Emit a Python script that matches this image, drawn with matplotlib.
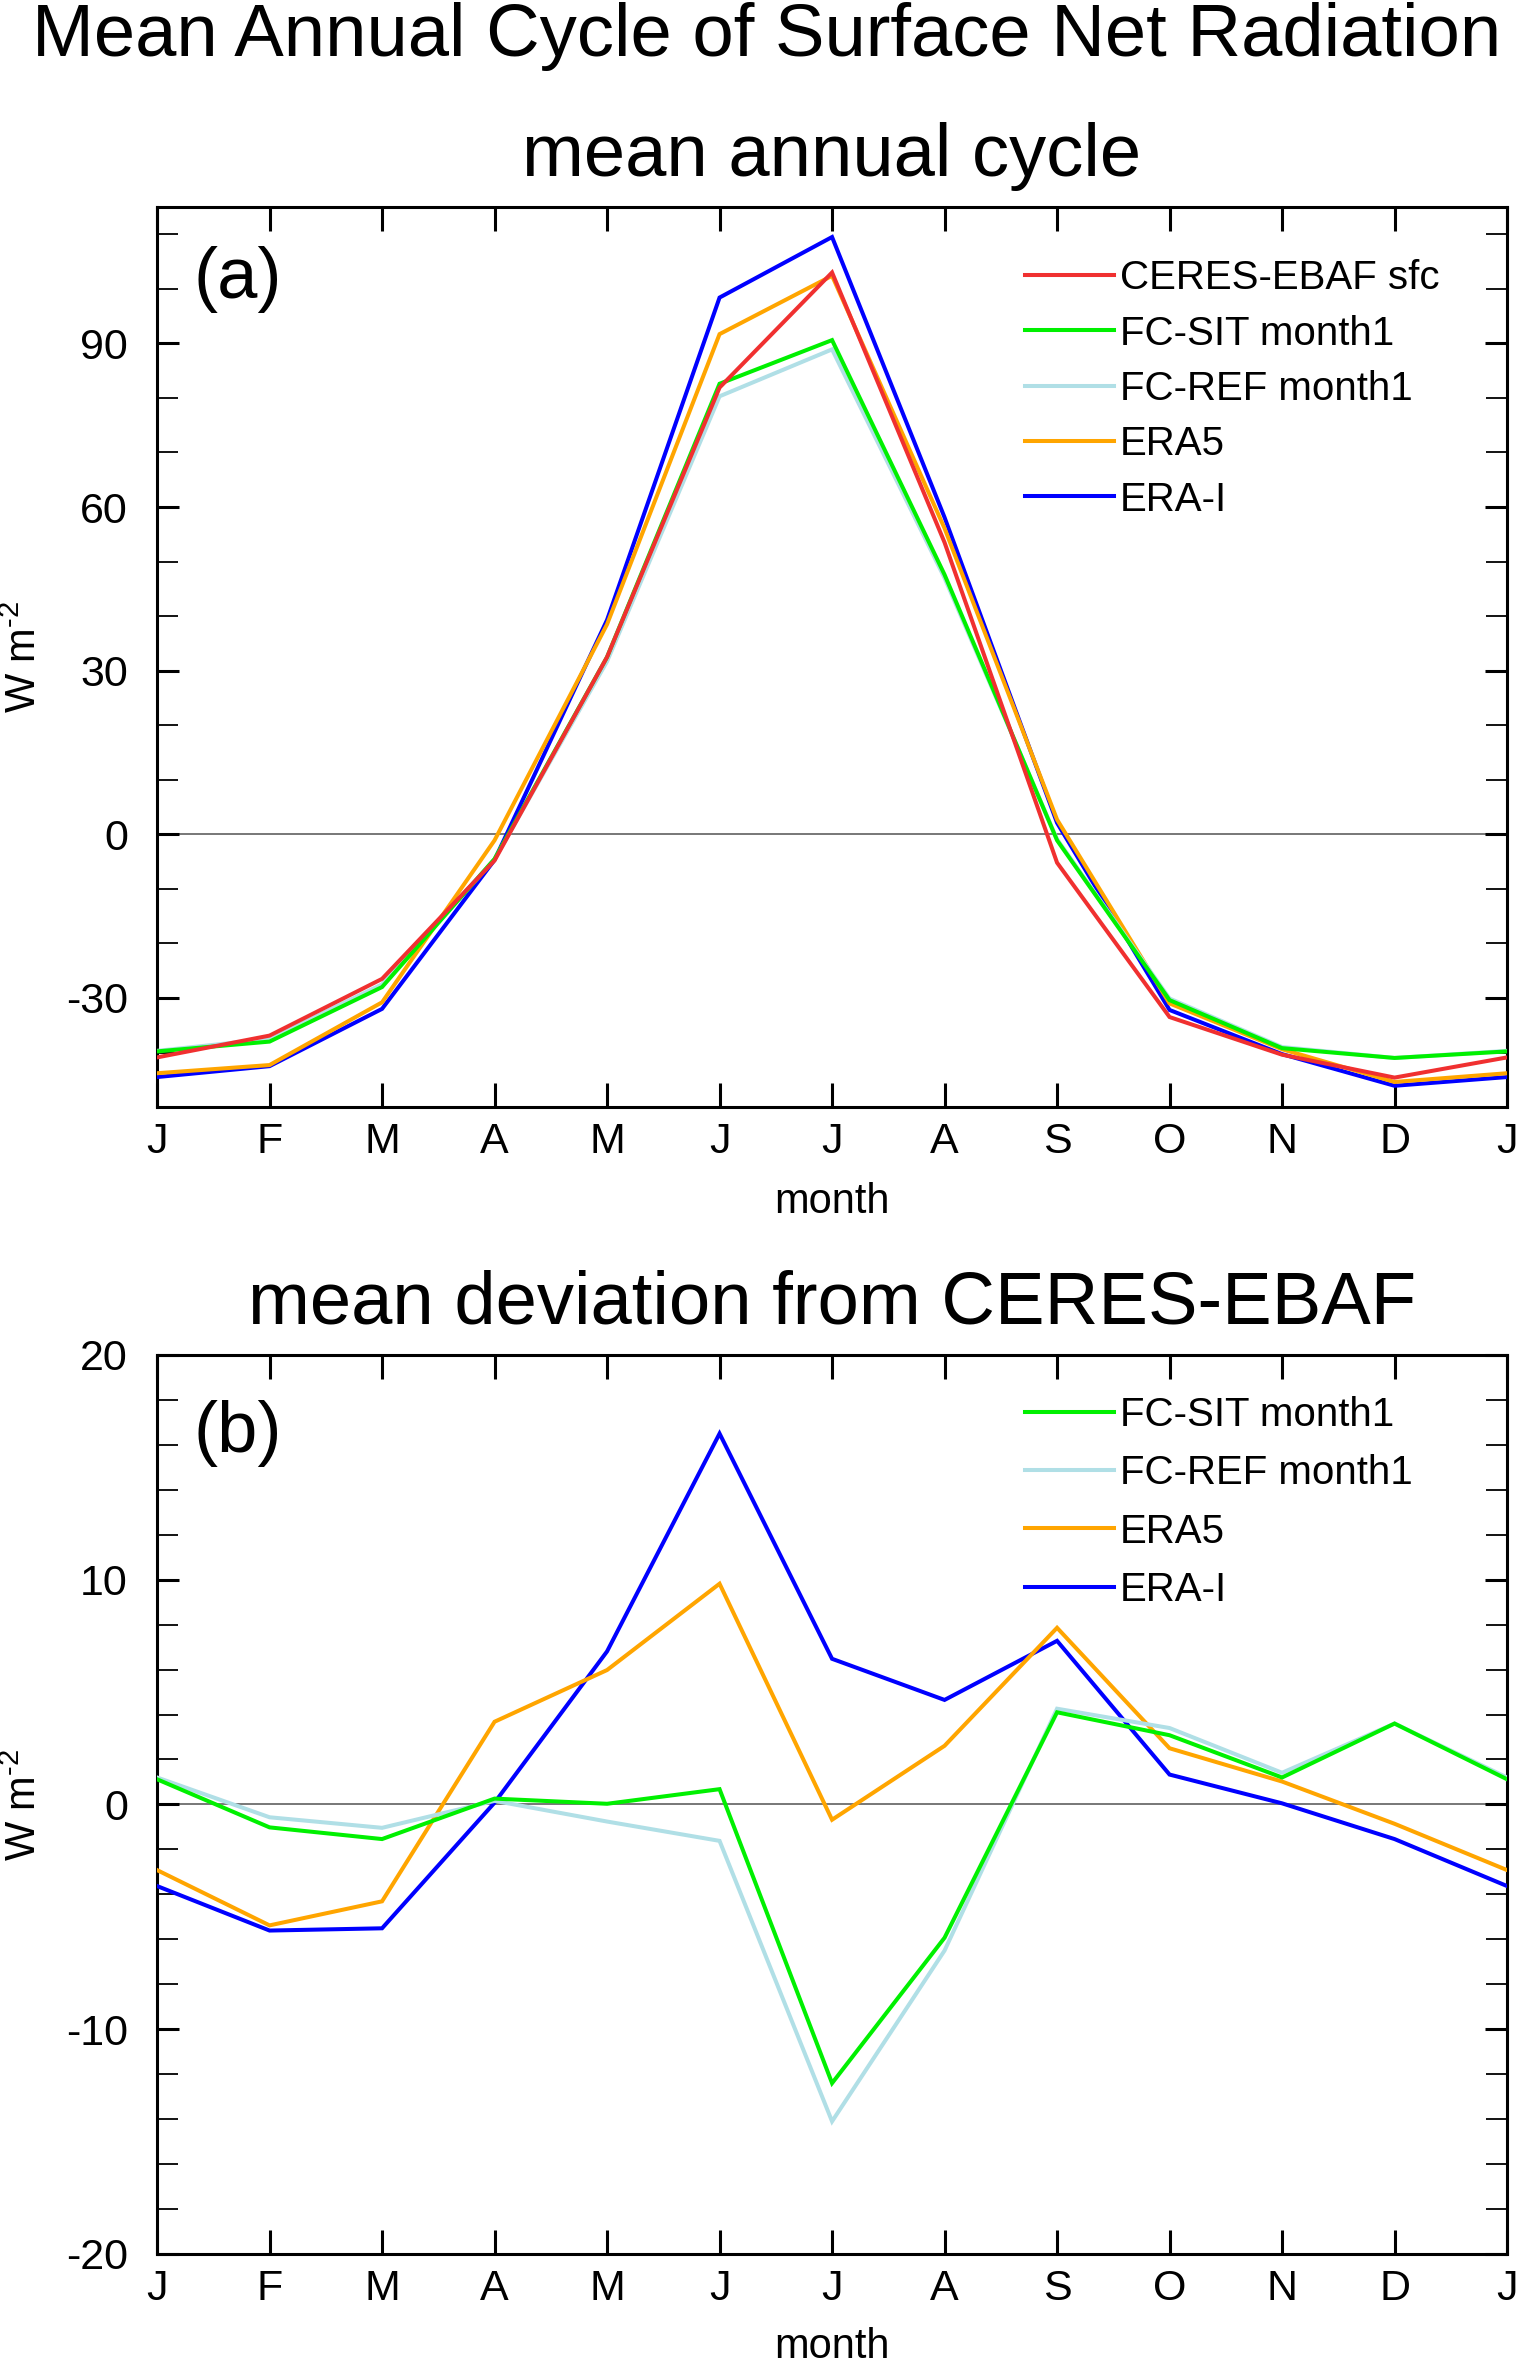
import numpy as np
import matplotlib
matplotlib.use("Agg")
from matplotlib import pyplot as plt
from matplotlib.ticker import MultipleLocator

plt.rcParams['font.family'] = ['Liberation Sans', 'DejaVu Sans']
plt.rcParams['mathtext.fontset'] = 'custom'
plt.rcParams['mathtext.rm'] = 'Liberation Sans'
plt.rcParams['mathtext.it'] = 'Liberation Sans:italic'
plt.rcParams['axes.unicode_minus'] = False

# dane (styczeń..grudzień)
month_labels = ["J", "F", "M", "A", "M", "J", "J", "A", "S", "O", "N", "D", "J"]

ceres = [-40.9, -36.9, -26.5, -4.8, 32.5, 81.9, 103.0, 53.5, -5.2, -33.5, -40.4, -44.6]
fc_sit = [-39.8, -38.0, -28.0, -4.5, 32.5, 82.6, 90.6, 47.6, -1.1, -30.4, -39.2, -41.0]
fc_ref = [-39.7, -37.5, -27.5, -4.6, 31.7, 80.3, 88.9, 47.0, -0.9, -30.1, -39.0, -41.0]
era5 = [-43.8, -42.3, -30.8, -1.1, 38.5, 91.7, 102.4, 56.1, 2.7, -31.0, -39.4, -45.4]
erai = [-44.5, -42.5, -32.0, -4.7, 39.3, 98.4, 109.5, 58.1, 2.1, -32.2, -40.3, -46.1]

# odchylenia od CERES-EBAF
dev_fc_sit = [1.12, -1.02, -1.54, 0.26, 0.03, 0.68, -12.4, -5.93, 4.1, 3.08, 1.2, 3.6]
dev_fc_ref = [1.2, -0.57, -1.04, 0.16, -0.76, -1.62, -14.1, -6.5, 4.26, 3.4, 1.41, 3.6]
dev_era5 = [-2.92, -5.38, -4.31, 3.68, 5.98, 9.82, -0.68, 2.61, 7.86, 2.5, 1.02, -0.86]
dev_erai = [-3.63, -5.61, -5.51, 0.08, 6.81, 16.5, 6.48, 4.65, 7.28, 1.33, 0.05, -1.54]

names = ["CERES-EBAF sfc", "FC-SIT month1", "FC-REF month1", "ERA5", "ERA-I"]
colors = ["#f03030", "#00f000", "#b0dfe6", "#ffa500", "#0000ff"]


def cyclic(v):
    # domknięcie cyklu rocznego (styczeń na końcu)
    return np.append(v, v[0])


x = np.arange(13)

fig = plt.figure(figsize=(15.16, 23.66), dpi=100)
ax1 = fig.add_axes([0.1036, 0.5321, 0.8905, 0.3804])
ax2 = fig.add_axes([0.1036, 0.04734, 0.8905, 0.3800])


def style_axes(ax, ylim, major, minor, label):
    ax.set_xlim(0, 12)
    ax.set_ylim(*ylim)
    ax.set_xticks(x)
    ax.set_xticklabels(month_labels)
    ax.yaxis.set_major_locator(MultipleLocator(major))
    ax.yaxis.set_minor_locator(MultipleLocator(minor))
    ax.tick_params(axis="x", which="major", direction="in", top=True, bottom=True,
                   length=17, width=2.2, labelsize=31, pad=11)
    ax.tick_params(axis="y", which="major", direction="in", left=True, right=True,
                   length=16, width=2.2, labelsize=31, pad=21)
    ax.tick_params(axis="y", which="minor", direction="in", left=True, right=True,
                   length=15, width=1.3)
    for s in ax.spines.values():
        s.set_linewidth(2.2)
    ax.axhline(0, color="#777777", lw=1.4, zorder=1)
    ax.set_xlabel("month", fontsize=30, va="center")
    ax.set_ylabel(r"W m$^{\text{-2}}$", fontsize=30, va="center")
    ax.yaxis.set_label_coords(-0.0978, 0.5)
    ax.text(0.5, 1.0344, label, transform=ax.transAxes, ha="center", va="baseline",
            fontsize=53.5)


# panel (a)
series_a = [ceres, fc_sit, fc_ref, era5, erai]
for i, (vals, name, c) in enumerate(zip(series_a, names, colors)):
    ax1.plot(x, cyclic(vals), color=c, lw=2.9, label=name, zorder=10 - i,
             solid_joinstyle="miter")
style_axes(ax1, (-50, 115), 30, 10, "mean annual cycle")
ax1.xaxis.set_label_coords(0.5, -0.1056)
ax1.text(0.027, 0.92, "(a)", transform=ax1.transAxes, fontsize=52, va="center")
ax1.legend(loc="upper left", bbox_to_anchor=(0.643, 0.942), frameon=False,
           fontsize=29, handlelength=2.2, handletextpad=0.15, labelspacing=0.43,
           borderpad=0, borderaxespad=0)

# panel (b)
series_b = [dev_fc_sit, dev_fc_ref, dev_era5, dev_erai]
for i, (vals, name, c) in enumerate(zip(series_b, names[1:], colors[1:])):
    ax2.plot(x, cyclic(vals), color=c, lw=2.9, label=name, zorder=10 - i,
             solid_joinstyle="miter")
style_axes(ax2, (-20, 20), 10, 2, "mean deviation from CERES-EBAF")
ax2.xaxis.set_label_coords(0.5, -0.1034)
ax2.text(0.027, 0.913, "(b)", transform=ax2.transAxes, fontsize=52, va="center")
ax2.legend(loc="upper left", bbox_to_anchor=(0.643, 0.954), frameon=False,
           fontsize=29, handlelength=2.2, handletextpad=0.15, labelspacing=0.5,
           borderpad=0, borderaxespad=0)

fig.text(0.5056, 0.9763, "Mean Annual Cycle of Surface Net Radiation", ha="center",
         va="baseline", fontsize=53.5)

plt.savefig("out.png", dpi=100)
plt.close()
